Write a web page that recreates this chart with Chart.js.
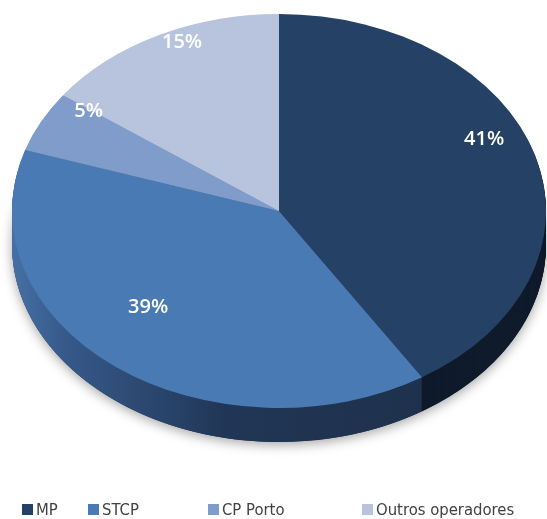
<!DOCTYPE html>
<html>
<head>
<meta charset="utf-8">
<script src="https://cdn.jsdelivr.net/npm/chart.js@4.4.1/dist/chart.umd.min.js"></script>
<style>
  html, body { margin: 0; padding: 0; background: #fff; }
  #wrap { position: relative; width: 547px; height: 519px; overflow: hidden; }
  #c { position: absolute; left: 0; top: 0; }
  #legend { position: absolute; left: 22px; top: 500px; height: 20px; white-space: nowrap;
            font-family: 'Liberation Sans Narrow', 'DejaVu Sans Condensed', sans-serif; font-size: 16.5px; color: #404040; }
  #legend .item { display: inline-block; vertical-align: top; line-height: 20px; }
  #legend .item:nth-child(1) { width: 66px; }
  #legend .item:nth-child(2) { width: 120px; }
  #legend .item:nth-child(3) { width: 154px; }
  #legend .box { display: inline-block; width: 11px; height: 11px; margin-right: 3px; vertical-align: 0px; }
</style>
</head>
<body>
<div id="wrap">
  <canvas id="c" width="547" height="519"></canvas>
  <div id="legend"></div>
</div>
<script>
const labels = ['MP', 'STCP', 'CP Porto', 'Outros operadores'];
const values = [41, 39, 5, 15];

const topColors = ['#254166', '#4a7ab3', '#7f9cca', '#b8c4de'];
const sideColors = ['#0f1a2b', '#1c2e46', '#4e6890', '#7a88a5'];

// ellipse of the top face on screen
const CX = 279, CY = 211, RX = 267, RY = 197, DEPTH = 34;

const pie3d = {
    id: 'pie3d',
    beforeDatasetsDraw(chart) {
        const ctx = chart.ctx;
        const arcs = chart.getDatasetMeta(0).data;
        const a = arcs[0];
        const sx = RX / a.outerRadius, sy = RY / a.outerRadius;
        const toEllipse = (dy) => {
            ctx.translate(CX, CY + dy);
            ctx.scale(sx, sy);
            ctx.translate(-a.x, -a.y);
        };

        // soft shadow under the pie
        ctx.save();
        toEllipse(DEPTH);
        ctx.shadowColor = 'rgba(0,0,0,0.35)';
        ctx.shadowBlur = 12;
        ctx.shadowOffsetY = 3;
        ctx.beginPath();
        ctx.arc(a.x, a.y, a.outerRadius, 0, Math.PI * 2);
        ctx.fillStyle = sideColors[1];
        ctx.fill();
        ctx.restore();

        const grad = ctx.createLinearGradient(a.x - a.outerRadius, 0, a.x + a.outerRadius, 0);
        grad.addColorStop(0, '#4670a5');
        grad.addColorStop(0.1, '#36598a');
        grad.addColorStop(0.4, '#213656');
        grad.addColorStop(1, sideColors[1]);

        // side wall: stacked copies of the slices
        for (let d = DEPTH; d >= 1; d--) {
            ctx.save();
            toEllipse(d);
            arcs.forEach((el, i) => {
                ctx.beginPath();
                ctx.moveTo(el.x, el.y);
                ctx.arc(el.x, el.y, el.outerRadius, el.startAngle, el.endAngle);
                ctx.closePath();
                ctx.fillStyle = i === 1 ? grad : sideColors[i];
                ctx.fill();
            });
            ctx.restore();
        }

        ctx.save();
        toEllipse(0);
    },
    afterDatasetsDraw(chart) {
        const ctx = chart.ctx;
        ctx.restore();
        const arcs = chart.getDatasetMeta(0).data;
        ctx.save();
        ctx.font = '600 20px "Open Sans", sans-serif';
        ctx.fillStyle = '#ffffff';
        ctx.textAlign = 'center';
        ctx.textBaseline = 'middle';
        arcs.forEach((el, i) => {
            const mid = (el.startAngle + el.endAngle) / 2;
            const x = CX + 0.8 * RX * Math.cos(mid);
            const y = CY - 28 + 0.8 * RY * Math.sin(mid);
            ctx.fillText(values[i] + '%', x, y);
        });
        ctx.restore();
    }
};

new Chart(document.getElementById('c'), {
    type: 'pie',
    data: {
        labels: labels,
        datasets: [{
            data: values,
            backgroundColor: topColors,
            borderWidth: 0,
            clip: false
        }]
    },
    options: {
        responsive: false,
        animation: false,
        layout: { padding: 10 },
        plugins: {
            legend: { display: false },
            tooltip: { enabled: false }
        }
    },
    plugins: [pie3d]
});

// legend
const legend = document.getElementById('legend');
labels.forEach((name, i) => {
    const item = document.createElement('span');
    item.className = 'item';
    item.innerHTML = '<span class="box" style="background:' + topColors[i] + '"></span>' + name;
    legend.appendChild(item);
});
</script>
</body>
</html>
